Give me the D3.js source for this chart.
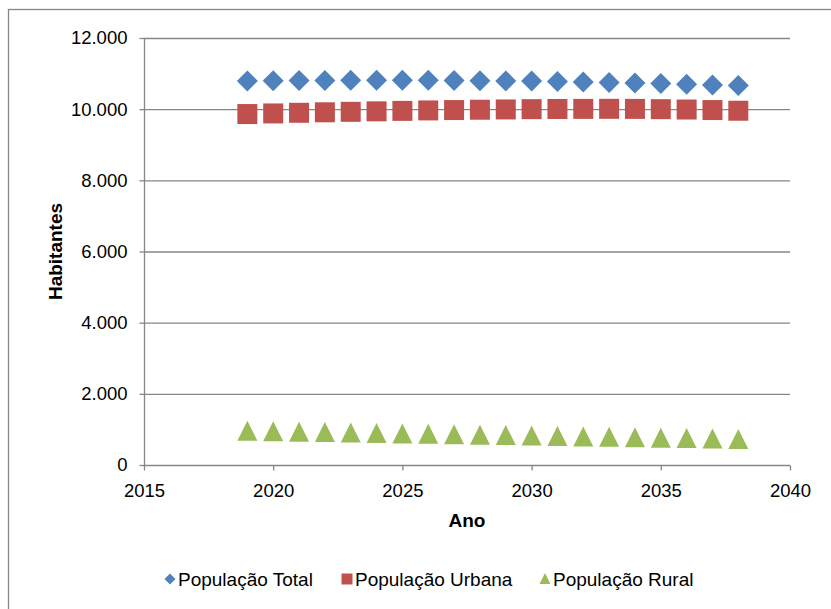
<!DOCTYPE html>
<html><head><meta charset="utf-8">
<script src="https://cdn.jsdelivr.net/npm/d3@7"></script>
<style>body{margin:0;background:#fff}svg{display:block;font-family:"Liberation Sans",Arial,sans-serif}</style>
</head><body><svg id="c" width="831" height="609"></svg>
<script>
const years = [2019,2020,2021,2022,2023,2024,2025,2026,2027,2028,2029,2030,2031,2032,2033,2034,2035,2036,2037,2038];
const total = [10795,10800,10805,10808,10810,10812,10812,10810,10806,10800,10795,10790,10778,10765,10750,10735,10718,10700,10682,10662];
const urban = [9863,9880,9898,9912,9925,9939,9952,9965,9975,9984,9992,10000,10005,10008,10010,10008,10000,9990,9975,9956];
const rural = [932,920,908,896,884,872,860,848,836,824,812,800,788,776,764,752,740,728,716,704];
const xTicks = [2015,2020,2025,2030,2035,2040];
const yTicks = [0,2000,4000,6000,8000,10000,12000];
const seriesNames = ["População Total","População Urbana","População Rural"];
const colors = ["#4F81BD","#C0504D","#9BBB59"];

const svg = d3.select("#c");
svg.append("rect").attr("x",8.5).attr("y",9.5).attr("width",830).attr("height",620)
  .attr("fill","none").attr("stroke","#868686").attr("stroke-width",1.3);

const x = d3.scaleLinear().domain([2015,2040]).range([144,790]);
const y = d3.scaleLinear().domain([0,12000]).range([465,38]);
const fmt = v => d3.format(",")(v).replace(/,/g,".");

// gridlines
svg.append("g").selectAll("line").data(yTicks.filter(d=>d>0)).join("line")
  .attr("x1",x(2015)).attr("x2",x(2040)).attr("y1",d=>y(d)+0.5).attr("y2",d=>y(d)+0.5)
  .attr("stroke","#868686").attr("stroke-width",1.3);

const yAxis = svg.append("g").attr("transform",`translate(${x(2015)+0.5},0)`)
  .call(d3.axisLeft(y).tickValues(yTicks).tickFormat(fmt).tickSize(5).tickPadding(12));
const xAxis = svg.append("g").attr("transform",`translate(0,${y(0)+0.5})`)
  .call(d3.axisBottom(x).tickValues(xTicks).tickFormat(d3.format("d")).tickSize(5).tickPadding(13));
[yAxis,xAxis].forEach(a=>{
  a.attr("font-size",18.5);
  a.selectAll("path,line").attr("stroke","#868686").attr("stroke-width",1.3);
  a.selectAll("text").attr("font-size",18.5).attr("fill","#000").attr("font-family","'Liberation Sans',Arial,sans-serif");
});
yAxis.select(".domain").attr("d",`M0,${y(12000)}V${y(0)}`);
xAxis.select(".domain").attr("d",`M${x(2015)},0H${x(2040)}`);

svg.append("text").attr("transform",`translate(62,${(y(0)+y(12000))/2}) rotate(-90)`)
  .attr("text-anchor","middle").attr("font-weight","bold").attr("font-size",19).text("Habitantes");
svg.append("text").attr("x",(x(2015)+x(2040))/2).attr("y",527)
  .attr("text-anchor","middle").attr("font-weight","bold").attr("font-size",19).text("Ano");

function sym(i, size){
  if(i===0){ const s=size/2; return `M0,${-s}L${s},0L0,${s}L${-s},0Z`; }
  if(i===1){ const s=size/2; return `M${-s},${-s}H${s}V${s}H${-s}Z`; }
  const h=size, w=size; return `M0,${-h*0.55}L${w/2},${h*0.45}L${-w/2},${h*0.45}Z`;
}
const data = [total, urban, rural];
data.forEach((vals,i)=>{
  svg.append("g").selectAll("path").data(years).join("path")
    .attr("transform",(d,j)=>`translate(${x(d)},${y(vals[j])})`)
    .attr("d",sym(i, i===0?21:20))
    .attr("fill",colors[i]);
});

// legend
const legX = [170,347,545];
seriesNames.forEach((n,i)=>{
  svg.append("path").attr("transform",`translate(${legX[i]},579)`).attr("d",sym(i, 11)).attr("fill",colors[i]);
  svg.append("text").attr("x",legX[i]+8).attr("y",585.5).attr("font-size",19).text(n);
});
</script></body></html>
